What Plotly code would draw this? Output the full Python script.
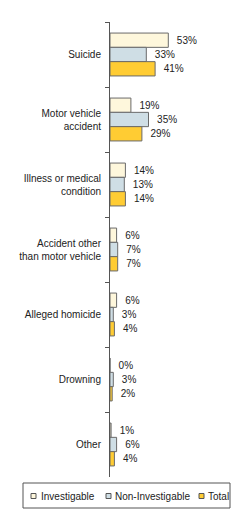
import plotly.graph_objects as go

categories = ["Suicide", "Motor vehicle<br>accident", "Illness or medical<br>condition",
              "Accident other<br>than motor vehicle", "Alleged homicide", "Drowning", "Other"]
investigable = [53, 19, 14, 6, 6, 0, 1]
non_investigable = [33, 35, 13, 7, 3, 3, 6]
total = [41, 29, 14, 7, 4, 2, 4]

series = [("Investigable", investigable, "#FEF7DC"),
          ("Non-Investigable", non_investigable, "#CFDEE5"),
          ("Total", total, "#FFCC33")]

W, H = 240, 518
ML, MR, MT, MB = 110, 20, 22, 41
PW, PH = W - ML - MR, H - MT - MB

def px_x(x):
    return (x - ML) / PW

def px_y(y):
    return (H - MB - y) / PH

fig = go.Figure()
for name, vals, col in series:
    fig.add_trace(go.Bar(
        y=categories, x=vals, name=name, orientation="h",
        marker=dict(color=col, line=dict(color="#6a6a6a", width=1)),
        text=[f"  {v}%" for v in vals], textposition="outside",
        textfont=dict(size=10, color="#222222", family="Liberation Sans"),
        cliponaxis=False, showlegend=False,
    ))

# manual compact legend (box, swatches, labels)
shapes = [dict(type="rect", xref="paper", yref="paper",
               x0=px_x(23), x1=px_x(230), y0=px_y(483), y1=px_y(508),
               line=dict(color="#555555", width=1), fillcolor="white", layer="above")]
annotations = []
legend_x = [(31, 39), (106, 113), (199, 206)]
for (name, vals, col), (sx, tx) in zip(series, legend_x):
    shapes.append(dict(type="rect", xref="paper", yref="paper",
                       x0=px_x(sx), x1=px_x(sx + 5), y0=px_y(493.5), y1=px_y(498.5),
                       line=dict(color="#555555", width=1), fillcolor=col, layer="above"))
    annotations.append(dict(text=name, xref="paper", yref="paper",
                            x=px_x(tx), y=px_y(496), xanchor="left", yanchor="middle",
                            showarrow=False, font=dict(size=10, family="Liberation Sans",
                                                       color="#222222")))

fig.update_layout(
    width=W, height=H,
    margin=dict(l=ML, r=MR, t=MT, b=MB),
    barmode="group", bargap=0.34, bargroupgap=0,
    plot_bgcolor="white", paper_bgcolor="white",
    font=dict(family="Liberation Sans", size=10, color="#222222"),
    xaxis=dict(range=[0, 100], visible=False, showgrid=False),
    yaxis=dict(autorange="reversed", showline=True, linecolor="#555555", linewidth=1,
               ticks="outside", ticklen=4, tickcolor="#555555", tickson="boundaries",
               showgrid=False, ticklabelstandoff=6),
    showlegend=False,
    shapes=shapes,
    annotations=annotations,
)

fig.write_html("out.html")
